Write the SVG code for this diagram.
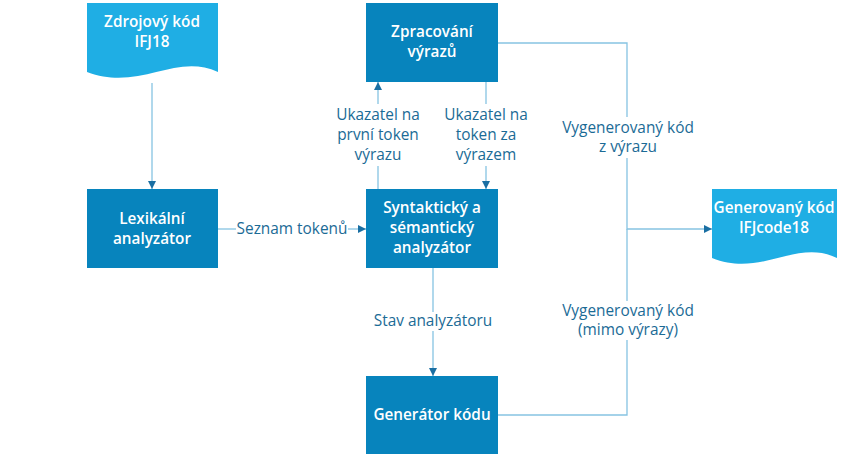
<svg xmlns="http://www.w3.org/2000/svg" width="849" height="459" viewBox="0 0 849 459">
<style>
.box{fill:#0784bd}
.doc{fill:#1faee4}
.nt{font-family:"Open Sans","Noto Sans",sans-serif;font-size:15.3px;font-weight:600;fill:#fff;text-anchor:middle}
.lt{font-family:"Open Sans","Noto Sans",sans-serif;font-size:15.4px;fill:#1b6b96;text-anchor:middle}
.ln{fill:none;stroke:#86c3e2;stroke-width:1.3}
</style>
<defs>
<marker id="ar" markerWidth="8" markerHeight="8" refX="8" refY="4" orient="auto" markerUnits="userSpaceOnUse">
<path d="M0,0 L8,4 L0,8 Z" fill="#1a6fa3"/>
</marker>
</defs>
<rect width="849" height="459" fill="#fff"/>
<g id="connectors">
<path class="ln" d="M152,83 V189" marker-end="url(#ar)"/>
<path class="ln" d="M218,229 H236"/>
<path class="ln" d="M348,229 H366" marker-end="url(#ar)"/>
<path class="ln" d="M378,189 V166"/>
<path class="ln" d="M378,104 V82" marker-end="url(#ar)"/>
<path class="ln" d="M486,82 V104"/>
<path class="ln" d="M486,166 V189" marker-end="url(#ar)"/>
<path class="ln" d="M498,43 H627 V117"/>
<path class="ln" d="M627,158 V229 H712" marker-end="url(#ar)"/>
<path class="ln" d="M498,415 H627 V340"/>
<path class="ln" d="M627,301 V229"/>
<path class="ln" d="M433,268 V312"/>
<path class="ln" d="M433,331 V376" marker-end="url(#ar)"/>
<text class="lt" x="292" y="234">Seznam tokenů</text>
<text class="lt" x="378" y="120">Ukazatel na</text>
<text class="lt" x="378" y="140">první token</text>
<text class="lt" x="378" y="160">výrazu</text>
<text class="lt" x="486" y="120">Ukazatel na</text>
<text class="lt" x="486" y="140">token za</text>
<text class="lt" x="486" y="160">výrazem</text>
<text class="lt" x="628" y="133">Vygenerovaný kód</text>
<text class="lt" x="628" y="152">z výrazu</text>
<text class="lt" x="628" y="316">Vygenerovaný kód</text>
<text class="lt" x="628" y="335">(mimo výrazy)</text>
<text class="lt" x="433" y="326">Stav analyzátoru</text>
</g>
<g id="zdrojovy">
<path class="doc" d="M87,3 H218 V72 C175,52 140,92 87,72 Z"/>
<text class="nt" x="152" y="27">Zdrojový kód</text>
<text class="nt" x="152" y="47">IFJ18</text>
</g>
<g id="lexikalni">
<rect class="box" x="87" y="189" width="131" height="79"/>
<text class="nt" x="152" y="224">Lexikální</text>
<text class="nt" x="152" y="244">analyzátor</text>
</g>
<g id="syntakticky">
<rect class="box" x="366" y="189" width="132" height="79"/>
<text class="nt" x="432" y="213">Syntaktický a</text>
<text class="nt" x="432" y="233">sémantický</text>
<text class="nt" x="432" y="253">analyzátor</text>
</g>
<g id="zpracovani">
<rect class="box" x="366" y="3" width="132" height="79"/>
<text class="nt" x="432" y="37">Zpracování</text>
<text class="nt" x="432" y="57">výrazů</text>
</g>
<g id="generator">
<rect class="box" x="366" y="376" width="132" height="78"/>
<text class="nt" x="432" y="420">Generátor kódu</text>
</g>
<g id="generovany">
<path class="doc" d="M712,189 H837 V258 C796,238 762,278 712,258 Z"/>
<text class="nt" x="774" y="213">Generovaný kód</text>
<text class="nt" x="774" y="233">IFJcode18</text>
</g>
</svg>
